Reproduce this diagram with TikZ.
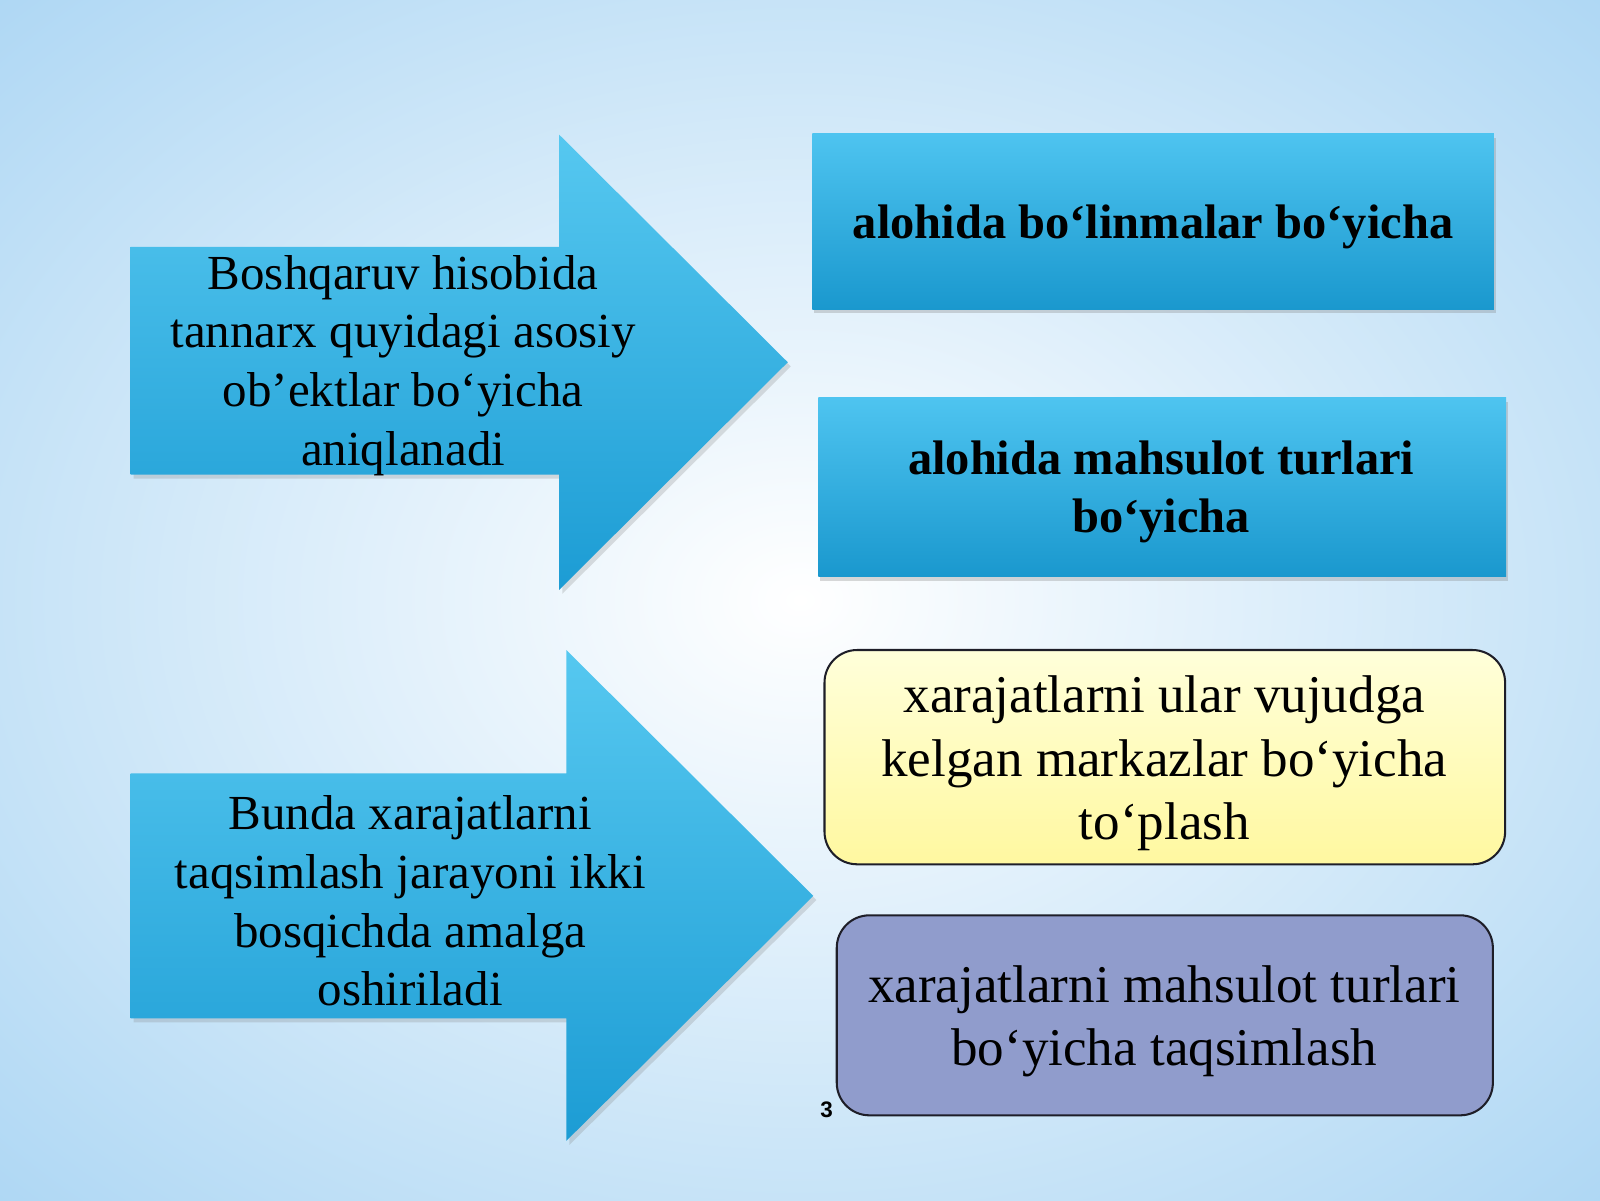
\documentclass[tikz,border=0pt]{standalone}
\usepackage{fontspec}
\setmainfont{Liberation Serif}
\newfontfamily\numfont{Liberation Sans}
\usetikzlibrary{shadows}
\definecolor{bgout}{RGB}{168,212,243}
\definecolor{arrtop}{RGB}{86,200,240}
\definecolor{arrbot}{RGB}{28,156,212}
\definecolor{boxtop}{RGB}{78,196,240}
\definecolor{boxbot}{RGB}{26,152,206}
\definecolor{ylwtop}{RGB}{255,255,218}
\definecolor{ylwbot}{RGB}{255,248,160}
\definecolor{lavfill}{RGB}{144,156,204}
\definecolor{edgedark}{RGB}{30,30,40}
\begin{document}
\begin{tikzpicture}[x=1pt,y=-1pt,
  arrowshape/.style={top color=arrtop,bottom color=arrbot,draw=none,
     drop shadow={shadow xshift=3pt,shadow yshift=-4pt,opacity=0.25}},
  bluebox/.style={top color=boxtop,bottom color=boxbot,draw=none,
     drop shadow={shadow xshift=2pt,shadow yshift=-4pt,opacity=0.3}},
  arrtext/.style={align=center,font=\fontsize{48}{57.5}\selectfont,text=black},
  boldtext/.style={align=center,font=\fontsize{47.5}{57.5}\selectfont\bfseries,text=black},
  roundtext/.style={align=center,font=\fontsize{52}{62}\selectfont,text=black}
]
\useasboundingbox (0,0) rectangle (1568,1176);
% background
\shade[inner color=white,outer color=bgout] (-420,-320) rectangle (1988,1496);
% arrow 1
\path[arrowshape] (128,242) -- (548,242) -- (548,132) -- (772,355) -- (548,578) -- (548,465) -- (128,465) -- cycle;
\node[arrtext] (t1) at (395,358) {Boshqaruv hisobida\\tannarx quyidagi asosiy\\ob’ektlar bo‘yicha\\aniqlanadi};
% arrow 2
\path[arrowshape] (128,758) -- (555,758) -- (555,637) -- (797,878) -- (555,1118) -- (555,998) -- (128,998) -- cycle;
\node[arrtext] (t2) at (402,883) {Bunda xarajatlarni\\taqsimlash jarayoni ikki\\bosqichda amalga\\oshiriladi};
% box 1
\path[bluebox] (796,131) rectangle (1464,303);
\node[boldtext] (b1) at (1130,222) {alohida bo‘linmalar bo‘yicha};
% box 2
\path[bluebox] (802,390) rectangle (1476,565);
\node[boldtext] (b2) at (1138,482) {alohida mahsulot turlari\\bo‘yicha};
% box 3
\draw[edgedark,line width=2pt,rounded corners=32pt,top color=ylwtop,bottom color=ylwbot]
  (808,637) rectangle (1475,847);
\node[roundtext] (b3) at (1141,748) {xarajatlarni ular vujudga\\kelgan markazlar bo‘yicha\\to‘plash};
% box 4
\draw[edgedark,line width=2pt,rounded corners=32pt,fill=lavfill]
  (820,897) rectangle (1463,1093);
\node[roundtext] (b4) at (1141,1001) {xarajatlarni mahsulot turlari\\bo‘yicha taqsimlash};
% page number
\node[font=\numfont\bfseries\fontsize{22}{24}\selectfont] (pn) at (810,1088) {3};
\end{tikzpicture}
\end{document}
